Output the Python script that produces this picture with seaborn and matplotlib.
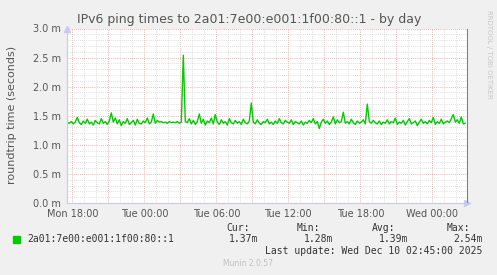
import matplotlib
matplotlib.use("Agg")
import matplotlib.pyplot as plt
import matplotlib.dates as mdates
from matplotlib.ticker import MultipleLocator, FuncFormatter
import seaborn as sns
import pandas as pd
import numpy as np

# ---- data (milliseconds, 10-minute samples) ----
start_time = "2025-12-08 17:35"
sample_freq = "10min"
ping_ms = [
    1.38,1.37,1.40,1.36,1.39,1.47,1.38,1.35,1.41,1.37,1.44,1.36,1.39,1.34,1.42,1.38,1.36,1.45,1.37,1.40,
    1.35,1.41,1.55,1.39,1.46,1.36,1.43,1.33,1.40,1.37,1.45,1.35,1.38,1.42,1.34,1.44,1.37,1.36,1.41,1.38,
    1.46,1.36,1.39,1.53,1.37,1.42,1.39,1.40,1.38,1.39,1.37,1.40,1.38,1.39,1.38,1.40,1.37,1.39,2.54,1.40,
    1.38,1.45,1.36,1.42,1.35,1.40,1.53,1.37,1.44,1.34,1.41,1.38,1.46,1.36,1.52,1.39,1.35,1.43,1.37,1.40,
    1.34,1.45,1.38,1.36,1.42,1.37,1.40,1.35,1.44,1.38,1.36,1.41,1.72,1.39,1.36,1.43,1.37,1.35,1.40,1.38,
    1.44,1.36,1.39,1.35,1.41,1.37,1.45,1.38,1.36,1.42,1.39,1.37,1.43,1.35,1.40,1.38,1.36,1.41,1.34,1.39,
    1.37,1.42,1.38,1.45,1.36,1.40,1.28,1.39,1.44,1.37,1.41,1.35,1.39,1.48,1.36,1.43,1.38,1.40,1.56,1.37,
    1.40,1.36,1.44,1.38,1.35,1.41,1.37,1.39,1.43,1.36,1.70,1.40,1.37,1.42,1.38,1.36,1.41,1.35,1.39,1.37,
    1.43,1.36,1.40,1.38,1.46,1.35,1.39,1.37,1.42,1.34,1.40,1.45,1.36,1.38,1.41,1.33,1.39,1.44,1.37,1.40,
    1.36,1.42,1.38,1.47,1.35,1.40,1.37,1.44,1.36,1.39,1.41,1.38,1.45,1.52,1.39,1.43,1.37,1.48,1.36,1.37,
]
series_name = "2a01:7e00:e001:1f00:80::1"
title = "IPv6 ping times to 2a01:7e00:e001:1f00:80::1 - by day"
ylabel = "roundtrip time (seconds)"
x_start = "2025-12-08 17:32"
x_end = "2025-12-10 02:52"
ymax = 3.0
stat_labels = ["Cur:", "Min:", "Avg:", "Max:"]
stat_values = ["1.37m", "1.28m", "1.39m", "2.54m"]
last_update = "Last update: Wed Dec 10 02:45:00 2025"

df = pd.DataFrame({
    "time": pd.date_range(start_time, periods=len(ping_ms), freq=sample_freq),
    "ms": ping_ms,
})

sns.set_style("white")
plt.rcParams["font.family"] = ["DejaVu Sans"]

W, H = 497, 275
fig = plt.figure(figsize=(W / 100, H / 100), dpi=100, facecolor="#F0F0F0")
L, R, T, B = 66.7, 466.7, 28.5, 203.0
ax = fig.add_axes([L / W, 1 - B / H, (R - L) / W, (B - T) / H])
ax.set_facecolor("white")

sns.lineplot(data=df, x="time", y="ms", ax=ax, color="#00CC00", linewidth=1.0)

ax.set_xlim(pd.Timestamp(x_start), pd.Timestamp(x_end))
ax.set_ylim(0, ymax)
ax.set_xlabel("")
ax.set_ylabel("")

ax.xaxis.set_major_locator(mdates.HourLocator(byhour=range(0, 24, 3)))
ax.xaxis.set_minor_locator(mdates.HourLocator())


def xfmt(v, pos):
    d = mdates.num2date(v)
    return d.strftime("%a %H:%M") if d.hour % 6 == 0 else ""


ax.xaxis.set_major_formatter(FuncFormatter(xfmt))
ax.yaxis.set_major_locator(MultipleLocator(0.5))
ax.yaxis.set_minor_locator(MultipleLocator(0.1))
ax.yaxis.set_major_formatter(FuncFormatter(lambda v, p: f"{v:.1f} m"))

ax.grid(which="minor", color="#D4D4D4", linestyle=(0, (1, 1.5)), linewidth=0.6)
ax.grid(which="major", color="#EE9A9A", linestyle=(0, (1, 1.5)), linewidth=0.6)
ax.set_axisbelow(True)

ax.tick_params(axis="both", which="major", labelsize=7, labelcolor="#555555",
               length=2, width=0.6, pad=2)
ax.tick_params(axis="x", which="major", color="#E07070")
ax.tick_params(axis="y", which="major", color="#999999")
ax.tick_params(axis="both", which="minor", length=1, width=0.5, color="#BBBBBB")

ax.spines["top"].set_visible(False)
ax.spines["left"].set_color("#C8C8F0")
ax.spines["bottom"].set_color("#C8C8F0")
ax.spines["right"].set_color("#808080")
for s in ["left", "bottom", "right"]:
    ax.spines[s].set_linewidth(0.8)

# axis arrows
ax.plot(1.0, 0, marker=">", color="#C8C8F0", markersize=4, transform=ax.transAxes, clip_on=False)
ax.plot(0, 1.0, marker="^", color="#C8C8F0", markersize=4, transform=ax.transAxes, clip_on=False)

def ftxt(x, y, s, **kw):
    fig.text(x / W, 1 - y / H, s, **kw)

ftxt(249, 19, title, ha="center", va="center", fontsize=9.0, color="#555555")
ftxt(12, 115, ylabel, ha="center", va="center", rotation=90, fontsize=8, color="#555555")
ftxt(489, 54, "RRDTOOL / TOBI OETIKER", ha="center", va="center", rotation=270,
     fontsize=5, color="#C8C8C8")

mono = dict(family="DejaVu Sans Mono", fontsize=7, color="#333333", va="center")
fig.patches.append(plt.Rectangle((13 / W, 1 - 243 / H), 7 / W, 7 / H,
                                 transform=fig.transFigure, color="#00CC00"))
ftxt(27, 239.5, series_name, ha="left", **mono)
label_right = [250, 320, 395, 470]
value_right = [258, 333, 408, 483]
for lx, lab in zip(label_right, stat_labels):
    ftxt(lx, 228, lab, ha="right", **mono)
for vx, val in zip(value_right, stat_values):
    ftxt(vx, 239.5, val, ha="right", **mono)
ftxt(482, 251, last_update, ha="right", **mono)
ftxt(248, 263, "Munin 2.0.57", ha="center", va="center", fontsize=5.5, color="#C0C0C0")

fig.savefig("out.png", dpi=100, facecolor=fig.get_facecolor())
